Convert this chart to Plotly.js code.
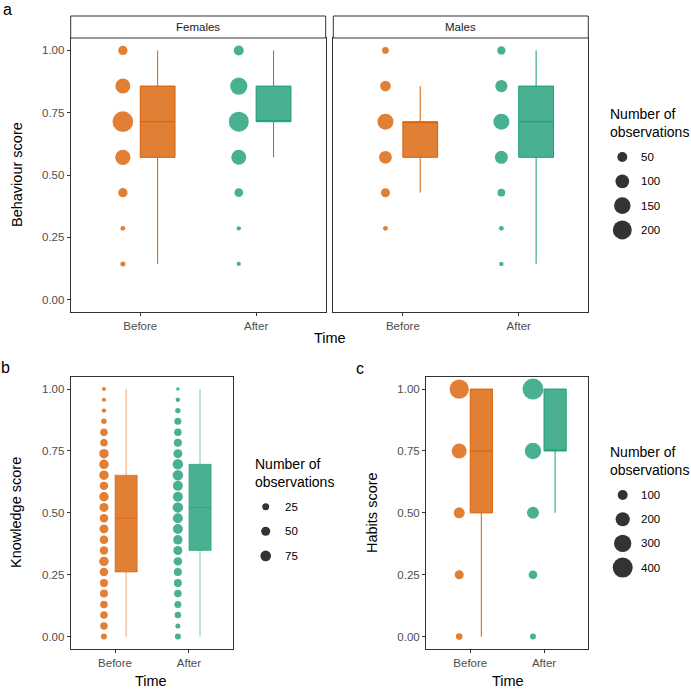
<!DOCTYPE html>
<html><head><meta charset="utf-8">
<script src="https://cdn.plot.ly/plotly-3.0.1.min.js"></script>
<style>html,body{margin:0;padding:0;background:#fff}#chart{width:691px;height:693px}</style>
</head><body><div id="chart"></div>
<script>
// ---------- DATA ----------
const timeLabels = ['Before', 'After'];
const sexLabels = ['Females', 'Males'];

// Panel a: behaviour score levels and number of observations
const behaviourScores = [0.143, 0.286, 0.429, 0.571, 0.714, 0.857, 1.000];
const femalesBeforeCounts = [10, 9, 43, 127, 240, 121, 43];
const femalesAfterCounts  = [6, 7, 37, 121, 224, 165, 50];
const malesBeforeCounts   = [null, 9, 40, 85, 140, 58, 20];
const malesAfterCounts    = [7, 9, 28, 89, 140, 79, 33];
// box stats: [lower whisker, q1, median, q3, upper whisker]
const femalesBeforeBox = [0.143, 0.571, 0.714, 0.857, 1.000];
const femalesAfterBox  = [0.571, 0.714, 0.714, 0.857, 1.000];
const malesBeforeBox   = [0.429, 0.571, 0.714, 0.714, 0.857];
const malesAfterBox    = [0.143, 0.571, 0.714, 0.857, 1.000];
const legendBreaksA = [50, 100, 150, 200];

// Panel b: knowledge score
const knowledgeScores = [0.000, 0.043, 0.087, 0.130, 0.174, 0.217, 0.261, 0.304, 0.348, 0.391, 0.435, 0.478,
                         0.522, 0.565, 0.609, 0.652, 0.696, 0.739, 0.783, 0.826, 0.870, 0.913, 0.957, 1.000];
const knowledgeBeforeCounts = [16, 30, 30, 30, 36, 36, 42, 56, 42, 42, 49, 42, 49, 56, 42, 56, 56, 56, 30, 30, 12, 6, 4, 4];
const knowledgeAfterCounts  = [16, 9, 20, 25, 30, 36, 36, 42, 49, 56, 64, 64, 72, 64, 64, 72, 72, 49, 36, 30, 25, 12, 6, 2];
const knowledgeBeforeBox = [0.000, 0.261, 0.478, 0.652, 1.000];
const knowledgeAfterBox  = [0.000, 0.348, 0.522, 0.696, 1.000];
const legendBreaksB = [25, 50, 75];

// Panel c: habits score
const habitsScores = [0.00, 0.25, 0.50, 0.75, 1.00];
const habitsBeforeCounts = [44, 81, 121, 225, 373];
const habitsAfterCounts  = [36, 75, 144, 267, 440];
const habitsBeforeBox = [0.00, 0.50, 0.75, 1.00, 1.00];
const habitsAfterBox  = [0.50, 0.75, 0.75, 1.00, 1.00];
const legendBreaksC = [100, 200, 300, 400];

// ---------- STYLE ----------
const W = 691, H = 693;
const px = x => x / W, py = y => 1 - y / H;
const FONT = 'Liberation Sans, Arial, sans-serif';
const COL = {
  Before: {line: '#D95F02', fill: 'rgba(217,95,2,0.8)', soft: 'rgba(217,95,2,0.55)'},
  After:  {line: '#1B9E77', fill: 'rgba(27,158,119,0.8)', soft: 'rgba(27,158,119,0.55)'}
};
const sizeA = n => 1 + 1.27 * Math.sqrt(n);
const sizeB = n => 2 + 1.0 * Math.sqrt(n);
const sizeC = n => 1.0 * Math.sqrt(n);
const NUDGE = 0.15, BOXW = 0.3;

const traces = [];
function addGroup(xa, ya, catIdx, time, scores, counts, box, sizeFn, softLine) {
  const xs = [], ys = [], ss = [];
  scores.forEach((s, i) => {
    if (counts[i] == null) return;
    xs.push(catIdx - NUDGE); ys.push(s); ss.push(sizeFn(counts[i]));
  });
  traces.push({
    type: 'box', xaxis: xa, yaxis: ya, x: [catIdx + NUDGE],
    lowerfence: [box[0]], q1: [box[1]], median: [box[2]], q3: [box[3]], upperfence: [box[4]],
    width: BOXW, fillcolor: COL[time].fill,
    line: {color: softLine ? COL[time].soft : COL[time].line, width: 1},
    whiskerwidth: 0, boxpoints: false, showlegend: false, hoverinfo: 'skip'
  });
  traces.push({
    type: 'scatter', mode: 'markers', xaxis: xa, yaxis: ya, x: xs, y: ys,
    marker: {size: ss, color: COL[time].fill, opacity: 1, line: {width: 0}},
    showlegend: false, hoverinfo: 'skip'
  });
}
addGroup('x', 'y', 1, 'Before', behaviourScores, femalesBeforeCounts, femalesBeforeBox, sizeA, false);
addGroup('x', 'y', 2, 'After', behaviourScores, femalesAfterCounts, femalesAfterBox, sizeA, false);
addGroup('x2', 'y2', 1, 'Before', behaviourScores, malesBeforeCounts, malesBeforeBox, sizeA, false);
addGroup('x2', 'y2', 2, 'After', behaviourScores, malesAfterCounts, malesAfterBox, sizeA, false);
addGroup('x3', 'y3', 1, 'Before', knowledgeScores, knowledgeBeforeCounts, knowledgeBeforeBox, sizeB, true);
addGroup('x3', 'y3', 2, 'After', knowledgeScores, knowledgeAfterCounts, knowledgeAfterBox, sizeB, true);
addGroup('x4', 'y4', 1, 'Before', habitsScores, habitsBeforeCounts, habitsBeforeBox, sizeC, false);
addGroup('x4', 'y4', 2, 'After', habitsScores, habitsAfterCounts, habitsAfterBox, sizeC, false);

// ---------- LEGENDS (size keys on a pixel overlay axis) ----------
const annotations = [];
function addLegend(titleX, titleY, keyX, keyY0, keyStep, labelX, breaks, sizeFn) {
  annotations.push({xref: 'paper', yref: 'paper', x: px(titleX), y: py(titleY), xanchor: 'left', yanchor: 'middle',
    text: 'Number of<br>observations', showarrow: false, align: 'left',
    font: {family: FONT, size: 14, color: '#000'}});
  const ys = breaks.map((b, i) => keyY0 + i * keyStep);
  traces.push({type: 'scatter', mode: 'markers', xaxis: 'x5', yaxis: 'y5',
    x: breaks.map(() => keyX), y: ys,
    marker: {size: breaks.map(sizeFn), color: 'rgba(0,0,0,0.8)', opacity: 1, line: {width: 0}},
    showlegend: false, hoverinfo: 'skip'});
  breaks.forEach((b, i) => annotations.push({xref: 'paper', yref: 'paper', x: px(labelX), y: py(ys[i]),
    xanchor: 'left', yanchor: 'middle', text: String(b), showarrow: false,
    font: {family: FONT, size: 11.5, color: '#000'}}));
}
addLegend(608, 123, 622.3, 157, 24.3, 639, legendBreaksA, sizeA);
addLegend(253, 473, 265.7, 506.7, 24.6, 283, legendBreaksB, sizeB);
addLegend(608, 461, 622.7, 495, 24.2, 639, legendBreaksC, sizeC);

// ---------- TEXT ----------
function txt(x, y, t, size, opts) {
  annotations.push(Object.assign({xref: 'paper', yref: 'paper', x: px(x), y: py(y), xanchor: 'center', yanchor: 'middle',
    text: t, showarrow: false, font: {family: FONT, size: size, color: '#000'}}, opts || {}));
}
txt(8, 9, 'a', 16);
txt(5, 367, 'b', 16);
txt(360, 368, 'c', 16);
txt(198.2, 27, sexLabels[0], 11.5, {font: {family: FONT, size: 11.5, color: '#1A1A1A'}});
txt(460.8, 27, sexLabels[1], 11.5, {font: {family: FONT, size: 11.5, color: '#1A1A1A'}});
txt(17, 175, 'Behaviour score', 14.5, {textangle: -90});
txt(329.5, 338, 'Time', 14.5);
txt(16, 513, 'Knowledge score', 14.5, {textangle: -90});
txt(151, 681, 'Time', 14.5);
txt(371.5, 512.5, 'Habits score', 14.5, {textangle: -90});
txt(508, 681, 'Time', 14.5);

// strips
const shapes = [
  {type: 'rect', xref: 'paper', yref: 'paper', x0: px(70.7), x1: px(325.7), y0: py(38), y1: py(16),
   line: {color: '#333333', width: 1}, fillcolor: '#FFFFFF'},
  {type: 'rect', xref: 'paper', yref: 'paper', x0: px(333.3), x1: px(588.3), y0: py(38), y1: py(16),
   line: {color: '#333333', width: 1}, fillcolor: '#FFFFFF'}
];

// ---------- AXES ----------
const tickFont = {family: FONT, size: 11.5, color: '#4D4D4D'};
function xax(d0, d1, anchor) {
  return {domain: [px(d0), px(d1)], anchor: anchor, range: [0.4, 2.6], tickvals: [1, 2], ticktext: timeLabels,
    showline: true, mirror: true, linecolor: '#333333', linewidth: 1, ticks: 'outside', ticklen: 3,
    tickcolor: '#333333', tickwidth: 1, showgrid: false, zeroline: false, tickfont: tickFont, fixedrange: true};
}
function yax(top, bottom, anchor, labels) {
  return {domain: [py(bottom), py(top)], anchor: anchor, range: [-0.05, 1.05],
    tickvals: [0, 0.25, 0.5, 0.75, 1], ticktext: ['0.00', '0.25', '0.50', '0.75', '1.00'],
    showticklabels: labels, ticks: labels ? 'outside' : '', ticklen: 3, tickcolor: '#333333', tickwidth: 1,
    showline: true, mirror: true, linecolor: '#333333', linewidth: 1, showgrid: false, zeroline: false,
    tickfont: tickFont, fixedrange: true};
}
const layout = {
  width: W, height: H, margin: {l: 0, r: 0, t: 0, b: 0}, paper_bgcolor: '#FFFFFF', plot_bgcolor: 'rgba(0,0,0,0)',
  showlegend: false, hovermode: false, boxmode: 'overlay',
  xaxis: xax(70.7, 325.7, 'y'), yaxis: yax(38, 312, 'x', true),
  xaxis2: xax(333.3, 588.3, 'y2'), yaxis2: yax(38, 312, 'x2', false),
  xaxis3: xax(70.7, 233.3, 'y3'), yaxis3: yax(376.7, 649, 'x3', true),
  xaxis4: xax(426, 588.3, 'y4'), yaxis4: yax(376.7, 649, 'x4', true),
  xaxis5: {domain: [0, 1], range: [0, W], visible: false, anchor: 'y5', fixedrange: true},
  yaxis5: {domain: [0, 1], range: [H, 0], visible: false, anchor: 'x5', fixedrange: true},
  annotations: annotations, shapes: shapes
};
Plotly.newPlot('chart', traces, layout, {staticPlot: true, displayModeBar: false});
</script></body></html>
